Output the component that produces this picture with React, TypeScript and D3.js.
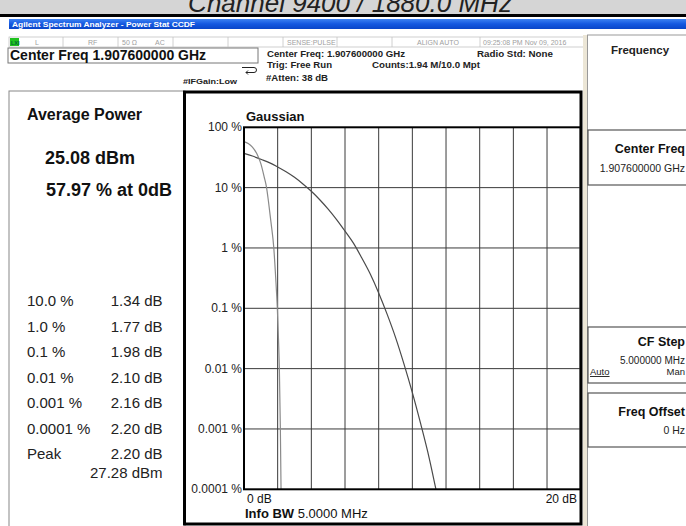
import React from 'react'
import * as d3 from 'd3'

const W = 686
const H = 526
const font = 'Liberation Sans, Arial, sans-serif'

// CCDF traces: relative power (dB) vs probability (%)
const gaussianDb = [0, 0.5, 1, 1.5, 2, 2.5, 3, 3.5, 4, 4.5, 5, 5.5, 6, 6.5, 7, 7.5, 8, 8.5, 9, 9.5, 10, 10.5, 11, 11.4]
const gaussianPct = [37, 33.5, 29.5, 26, 22, 18.3, 14.8, 11.5, 8.7, 6.3, 4.4, 2.95, 1.9, 1.2, 0.68, 0.37, 0.18, 0.08, 0.033, 0.012, 0.004, 0.0012, 0.00033, 0.0001]
const signalDb = [0, 0.25, 0.5, 0.75, 1.0, 1.2, 1.34, 1.45, 1.6, 1.77, 1.88, 1.98, 2.05, 2.1, 2.16, 2.2]
const signalPct = [57.97, 54, 47, 37, 25, 15, 10, 6, 2.7, 1, 0.33, 0.1, 0.03, 0.01, 0.001, 0.0001]

const yTickPct = [100, 10, 1, 0.1, 0.01, 0.001, 0.0001]
const yTickLabels = ['100 %', '10 %', '1 %', '0.1 %', '0.01 %', '0.001 %', '0.0001 %']

const statLevels = ['10.0 %', '1.0 %', '0.1 %', '0.01 %', '0.001 %', '0.0001 %', 'Peak']
const statValues = ['1.34 dB', '1.77 dB', '1.98 dB', '2.10 dB', '2.16 dB', '2.20 dB', '2.20 dB']

const statusCells = [
  { x: 35, t: 'L' }, { x: 88, t: 'RF' }, { x: 122, t: '50 Ω' }, { x: 155, t: 'AC' },
  { x: 287, t: 'SENSE:PULSE' }, { x: 417, t: 'ALIGN AUTO' }, { x: 483, t: '09:25:08 PM Nov 09, 2016' },
]
const statusSeps = [63, 118, 173, 228, 283, 337, 392, 480]

const plot = { left: 244, right: 580.7, top: 127.3, bottom: 489.3 }

export default function App() {
  const x = d3.scaleLinear().domain([0, 20]).range([plot.left, plot.right])
  const y = d3.scaleLog().domain([0.0001, 100]).range([plot.bottom, plot.top])
  const line = d3.line<[number, number]>()
    .x(d => x(d[0]))
    .y(d => y(d[1]))
    .curve(d3.curveMonotoneX)
  const gaussian = line(gaussianDb.map((d, i) => [d, gaussianPct[i]]))
  const signal = line(signalDb.map((d, i) => [d, signalPct[i]]))
  const rowY = d3.scaleLinear().domain([0, 6]).range([306, 459])

  return (
    <svg width={W} height={H} style={{ position: 'absolute', left: 0, top: 0, display: 'block' }}
      fontFamily={font}>
      <defs>
        <linearGradient id="tb" x1="0" y1="0" x2="0" y2="1">
          <stop offset="0" stopColor="#3d82f2" />
          <stop offset="0.5" stopColor="#1458e0" />
          <stop offset="1" stopColor="#0a46c8" />
        </linearGradient>
      </defs>
      <rect x={0} y={0} width={W} height={H} fill="#fff" />

      {/* caption strip */}
      <rect x={0} y={0} width={W} height={15} fill="#d5d5d5" />
      <text x={350} y={12} fontSize={26} fontStyle="italic" textAnchor="middle" fill="#222">Channel 9400 / 1880.0 MHz</text>
      <rect x={0} y={14} width={W} height={3} fill="#000" />

      {/* window title */}
      <rect x={9} y={19} width={W - 9} height={10} fill="url(#tb)" />
      <text x={12} y={27} fontSize={8} fontWeight="bold" fill="#fff" textLength={183} lengthAdjust="spacingAndGlyphs">Agilent Spectrum Analyzer - Power Stat CCDF</text>

      {/* status row */}
      <rect x={9} y={37} width={576} height={10} fill="#fff" stroke="#c4c4c4" strokeWidth={0.8} />
      {statusSeps.map(s => <line key={s} x1={s} x2={s} y1={37} y2={47} stroke="#c4c4c4" strokeWidth={0.8} />)}
      <rect x={10} y={38} width={9} height={8} fill="#1fc21f" />
      <text x={11} y={45} fontSize={5.5} fontWeight="bold" fill="#063">LXI</text>
      {statusCells.map(c => (
        <text key={c.t} x={c.x} y={45} fontSize={7} fill="#a0a0a0">{c.t}</text>
      ))}

      {/* center freq box and info */}
      <rect x={8} y={48} width={250} height={15} fill="#fff" stroke="#777" strokeWidth={1} />
      <text x={10} y={60} fontSize={14} fontWeight="bold" fill="#111">Center Freq 1.907600000 GHz</text>
      <g fontSize={9} fontWeight="bold" fill="#222">
        <text x={267} y={57} textLength={138} lengthAdjust="spacingAndGlyphs">Center Freq: 1.907600000 GHz</text>
        <text x={267} y={68} textLength={65} lengthAdjust="spacingAndGlyphs">Trig: Free Run</text>
        <text x={372} y={68} textLength={108} lengthAdjust="spacingAndGlyphs">Counts:1.94 M/10.0 Mpt</text>
        <text x={266} y={81} textLength={62} lengthAdjust="spacingAndGlyphs">#Atten: 38 dB</text>
        <text x={183} y={84} fontSize={8} textLength={54} lengthAdjust="spacingAndGlyphs">#IFGain:Low</text>
        <text x={477} y={57} textLength={76} lengthAdjust="spacingAndGlyphs">Radio Std: None</text>
      </g>
      <path d="M242 67.5 H254 A2.5 2.5 0 0 1 254 72.5 H246 M248 70.5 L246 72.5 L248 74.5" fill="none" stroke="#222" strokeWidth={1} />

      {/* left result panel */}
      <rect x={9} y={91} width={176} height={440} fill="#fff" stroke="#888" strokeWidth={1} />
      <text x={27} y={120} fontSize={16} fontWeight="bold" fill="#111">Average Power</text>
      <text x={45} y={164} fontSize={18} fontWeight="bold" fill="#111">25.08 dBm</text>
      <text x={46} y={196} fontSize={18} fontWeight="bold" fill="#111">57.97 % at 0dB</text>
      {statLevels.map((s, i) => (
        <g key={s} fontSize={15} fill="#222">
          <text x={27} y={rowY(i)}>{s}</text>
          <text x={162.5} y={rowY(i)} textAnchor="end">{statValues[i]}</text>
        </g>
      ))}
      <text x={162.5} y={478} fontSize={15} fill="#222" textAnchor="end">27.28 dBm</text>

      {/* graph frame */}
      <rect x={184.5} y={92} width={396.5} height={432} fill="#fff" stroke="#000" strokeWidth={3} />
      <rect x={583} y={35} width={4} height={H} fill="#ece6d6" />

      {/* grid */}
      {x.ticks(10).slice(1, -1).map(t => (
        <line key={'v' + t} x1={x(t)} x2={x(t)} y1={plot.top} y2={plot.bottom} stroke="#3a3a3a" strokeWidth={1} />
      ))}
      {yTickPct.slice(1, -1).map(t => (
        <line key={'h' + t} x1={plot.left} x2={plot.right} y1={y(t)} y2={y(t)} stroke="#3a3a3a" strokeWidth={1} />
      ))}
      {yTickPct.map((t, i) => (
        <text key={'l' + t} x={242} y={y(t) + 4} fontSize={12} textAnchor="end" fill="#222">{yTickLabels[i]}</text>
      ))}

      <path d={gaussian ?? ''} fill="none" stroke="#4a4a4a" strokeWidth={1.2} />
      <path d={signal ?? ''} fill="none" stroke="#8a8a8a" strokeWidth={1.2} />
      <rect x={plot.left} y={plot.top} width={plot.right - plot.left} height={plot.bottom - plot.top}
        fill="none" stroke="#000" strokeWidth={2} />

      <text x={246} y={121} fontSize={13} fontWeight="bold" fill="#111">Gaussian</text>
      <text x={247} y={503} fontSize={12} fill="#111">0 dB</text>
      <text x={577} y={503} fontSize={12} fill="#111" textAnchor="end">20 dB</text>
      <text x={245} y={518} fontSize={13} fill="#111">
        <tspan fontWeight="bold">Info BW</tspan> 5.0000 MHz
      </text>

      {/* softkey panel */}
      <rect x={587.5} y={35} width={110} height={H} fill="#fff" stroke="#999" strokeWidth={1} />
      <text x={640} y={54} fontSize={11.5} fontWeight="bold" fill="#222" textAnchor="middle">Frequency</text>

      <rect x={588} y={130} width={110} height={55} fill="#fff" stroke="#555" strokeWidth={1.2} />
      <text x={685} y={153} fontSize={12.5} fontWeight="bold" fill="#111" textAnchor="end">Center Freq</text>
      <text x={685} y={172} fontSize={10.5} fill="#222" textAnchor="end">1.907600000 GHz</text>

      <rect x={588} y={327} width={110} height={56} fill="#fff" stroke="#555" strokeWidth={1.2} />
      <text x={685} y={346} fontSize={12.5} fontWeight="bold" fill="#111" textAnchor="end">CF Step</text>
      <text x={685} y={364} fontSize={10} fill="#222" textAnchor="end">5.000000 MHz</text>
      <text x={590} y={375} fontSize={9.5} fill="#222" textDecoration="underline">Auto</text>
      <text x={685} y={375} fontSize={9.5} fill="#222" textAnchor="end">Man</text>

      <rect x={588} y={393} width={110} height={54} fill="#fff" stroke="#555" strokeWidth={1.2} />
      <text x={685} y={416} fontSize={12.5} fontWeight="bold" fill="#111" textAnchor="end">Freq Offset</text>
      <text x={685} y={434} fontSize={10.5} fill="#222" textAnchor="end">0 Hz</text>
    </svg>
  )
}
